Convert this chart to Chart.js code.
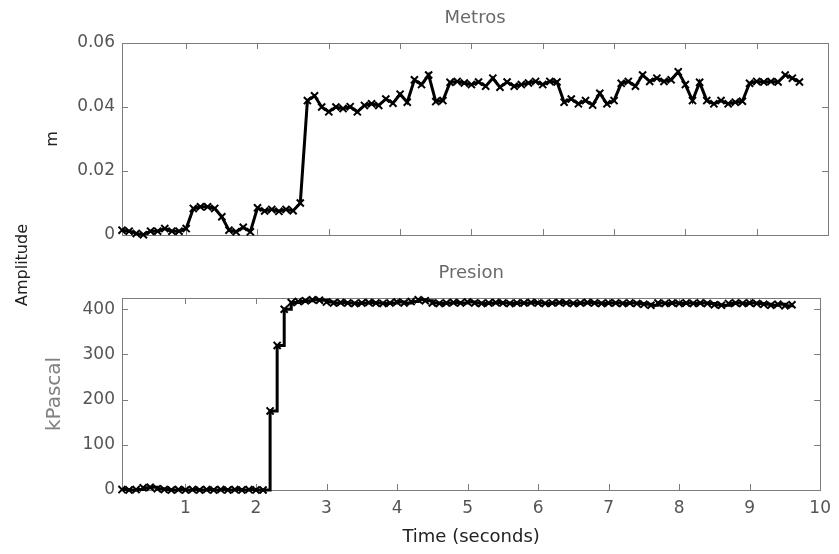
<!DOCTYPE html>
<html>
<head>
<meta charset="utf-8">
<script src="https://cdn.jsdelivr.net/npm/chart.js@4.4.1/dist/chart.umd.min.js"></script>
<style>
  html, body { margin: 0; padding: 0; background: #fff; }
  #wrap { position: relative; width: 839px; height: 554px; }
  #wrap canvas { position: absolute; left: 0; top: 0; }
</style>
</head>
<body>
<div id="wrap">
  <canvas id="metros" width="839" height="554"></canvas>
  <canvas id="presion" width="839" height="554"></canvas>
</div>
<script>
// sample times (s)
const times = [
  0.1, 0.2, 0.3, 0.4, 0.5, 0.6, 0.7, 0.8, 0.9, 1.0,
  1.1, 1.2, 1.3, 1.4, 1.5, 1.6, 1.7, 1.8, 1.9, 2.0,
  2.1, 2.2, 2.3, 2.4, 2.5, 2.6, 2.7, 2.8, 2.9, 3.0,
  3.1, 3.2, 3.3, 3.4, 3.5, 3.6, 3.7, 3.8, 3.9, 4.0,
  4.1, 4.2, 4.3, 4.4, 4.5, 4.6, 4.7, 4.8, 4.9, 5.0,
  5.1, 5.2, 5.3, 5.4, 5.5, 5.6, 5.7, 5.8, 5.9, 6.0,
  6.1, 6.2, 6.3, 6.4, 6.5, 6.6, 6.7, 6.8, 6.9, 7.0,
  7.1, 7.2, 7.3, 7.4, 7.5, 7.6, 7.7, 7.8, 7.9, 8.0,
  8.1, 8.2, 8.3, 8.4, 8.5, 8.6, 8.7, 8.8, 8.9, 9.0,
  9.1, 9.2, 9.3, 9.4, 9.5, 9.6
];

// displacement (m)
const metros = [
  0.0015, 0.0012, 0.0005, 0.0001, 0.0012, 0.0012, 0.0020, 0.0012, 0.0012, 0.0020,
  0.0083, 0.0088, 0.0088, 0.0083, 0.0057, 0.0015, 0.0010, 0.0024, 0.0010, 0.0085,
  0.0075, 0.0080, 0.0074, 0.0080, 0.0076, 0.0100, 0.0420, 0.0435, 0.0400, 0.0385,
  0.0400, 0.0395, 0.0401, 0.0385, 0.0405, 0.0410, 0.0405, 0.0425, 0.0412, 0.0440,
  0.0415, 0.0485, 0.0470, 0.0500, 0.0417, 0.0420, 0.0477, 0.0480, 0.0475, 0.0470,
  0.0478, 0.0465, 0.0490, 0.0462, 0.0478, 0.0465, 0.0470, 0.0475, 0.0480, 0.0470,
  0.0480, 0.0478, 0.0415, 0.0425, 0.0410, 0.0420, 0.0406, 0.0443, 0.0410, 0.0420,
  0.0474, 0.0480, 0.0465, 0.0500, 0.0480, 0.0490, 0.0480, 0.0485, 0.0510, 0.0470,
  0.0420, 0.0477, 0.0420, 0.0410, 0.0420, 0.0410, 0.0415, 0.0418, 0.0474, 0.0480,
  0.0478, 0.0480, 0.0478, 0.0500, 0.0490, 0.0478
];

// pressure (kPa)
const presion = [
  1, 0, 1, 5, 6, 3, 1, 0, 1, 0,
  1, 0, 1, 0, 1, 0, 1, 0, 1, 0,
  0, 175, 320, 400, 415, 417, 419, 421, 420, 416,
  414, 415, 414, 413, 414, 415, 414, 413, 414, 416,
  414, 417, 421, 419, 414, 413, 414, 415, 414, 416,
  414, 413, 414, 415, 414, 413, 414, 414, 415, 414,
  413, 414, 415, 414, 413, 414, 415, 414, 413, 414,
  414, 413, 414, 413, 411, 409, 414, 413, 414, 413,
  414, 413, 414, 413, 410, 409, 413, 414, 413, 414,
  413, 411, 409, 411, 408, 410
];

const xTicks = [1, 2, 3, 4, 5, 6, 7, 8, 9, 10];
const metrosTicks = [0, 0.02, 0.04, 0.06];
const presionTicks = [0, 100, 200, 300, 400];

const FONT = '"DejaVu Sans", sans-serif';
const tickColor = '#555';
const frameColor = '#7c7c7c';

// matlab style box with inward ticks on all four sides
const boxPlugin = {
  id: 'box',
  beforeDatasetsDraw(chart) {
    const { ctx, chartArea: a, scales } = chart;
    const len = 6;
    ctx.save();
    ctx.strokeStyle = frameColor;
    ctx.lineWidth = 1;
    ctx.strokeRect(Math.round(a.left) + 0.5, Math.round(a.top) + 0.5,
      Math.round(a.right - a.left), Math.round(a.bottom - a.top));
    ctx.beginPath();
    scales.x.ticks.forEach(t => {
      const px = Math.round(scales.x.getPixelForValue(t.value)) + 0.5;
      ctx.moveTo(px, a.bottom); ctx.lineTo(px, a.bottom - len);
      ctx.moveTo(px, a.top); ctx.lineTo(px, a.top + len);
    });
    scales.y.ticks.forEach(t => {
      const py = Math.round(scales.y.getPixelForValue(t.value)) + 0.5;
      ctx.moveTo(a.left, py); ctx.lineTo(a.left + len, py);
      ctx.moveTo(a.right, py); ctx.lineTo(a.right - len, py);
    });
    ctx.stroke();
    ctx.restore();
  }
};

// panel title centred over the plot area (not the whole canvas)
const panelTitle = {
  id: 'panelTitle',
  afterDraw(chart, args, opts) {
    const { ctx, chartArea: a } = chart;
    ctx.save();
    ctx.font = '18px ' + FONT;
    ctx.fillStyle = '#6a6a6a';
    ctx.textAlign = 'center';
    ctx.textBaseline = 'middle';
    ctx.fillText(opts.text, (a.left + a.right) / 2, a.top - 25);
    ctx.restore();
  }
};

// shared y label between the two panels
const amplitudeLabel = {
  id: 'amplitude',
  afterDraw(chart) {
    const { ctx } = chart;
    ctx.save();
    ctx.translate(23, 265);
    ctx.rotate(-Math.PI / 2);
    ctx.font = '16px ' + FONT;
    ctx.fillStyle = '#222';
    ctx.textAlign = 'center';
    ctx.textBaseline = 'middle';
    ctx.fillText('Amplitude', 0, 0);
    ctx.restore();
  }
};

function lineData(ys, stepped) {
  return {
    datasets: [{
      data: times.map((t, i) => ({ x: t, y: ys[i] })),
      borderColor: '#000',
      borderWidth: 3,
      pointStyle: 'crossRot',
      pointRadius: 5,
      pointBorderWidth: 2,
      pointBorderColor: '#000',
      stepped: stepped,
      tension: 0,
      clip: false
    }]
  };
}

function baseOptions(title, pad, yOpts, xOpts) {
  return {
    responsive: false,
    animation: false,
    layout: { padding: pad },
    plugins: {
      legend: { display: false },
      tooltip: { enabled: false },
      title: { display: false },
      panelTitle: { text: title }
    },
    scales: {
      x: Object.assign({
        type: 'linear',
        min: 0.1,
        max: 10,
        grid: { display: false, drawTicks: false },
        border: { display: false },
        afterBuildTicks: s => { s.ticks = xTicks.map(v => ({ value: v })); }
      }, xOpts),
      y: Object.assign({
        type: 'linear',
        grid: { display: false, drawTicks: false },
        border: { display: false },
        afterFit: s => { s.width = 82; }
      }, yOpts)
    }
  };
}

new Chart(document.getElementById('metros'), {
  type: 'line',
  data: lineData(metros, false),
  options: baseOptions('Metros',
    { left: 40, right: 11, top: 43, bottom: 294 },
    {
      min: 0, max: 0.06,
      afterBuildTicks: s => { s.ticks = metrosTicks.map(v => ({ value: v })); },
      ticks: { padding: 7, color: tickColor, font: { family: FONT, size: 17 } },
      title: { display: true, text: 'm', color: '#222', font: { family: FONT, size: 16, lineHeight: 1.2 }, padding: { top: 3 } }
    },
    {
      ticks: { display: false },
      afterFit: s => { s.height = 25; }
    }),
  plugins: [boxPlugin, panelTitle, amplitudeLabel]
});

new Chart(document.getElementById('presion'), {
  type: 'line',
  data: lineData(presion, true),
  options: baseOptions('Presion',
    { left: 40, right: 11, top: 298, bottom: 0 },
    {
      min: 0, max: 425,
      afterBuildTicks: s => { s.ticks = presionTicks.map(v => ({ value: v })); },
      ticks: { padding: 7, color: tickColor, font: { family: FONT, size: 17 } },
      title: { display: true, text: 'kPascal', color: '#808080', font: { family: FONT, size: 20, lineHeight: 1.2 }, padding: { top: 3 } }
    },
    {
      ticks: { padding: 8, color: tickColor, font: { family: FONT, size: 17 }, maxRotation: 0 },
      title: { display: true, text: 'Time (seconds)', color: '#222', font: { family: FONT, size: 18, lineHeight: 1.2 }, padding: { top: 0, bottom: 6 } },
      afterFit: s => { s.height = 64; }
    }),
  plugins: [boxPlugin, panelTitle]
});
</script>
</body>
</html>
